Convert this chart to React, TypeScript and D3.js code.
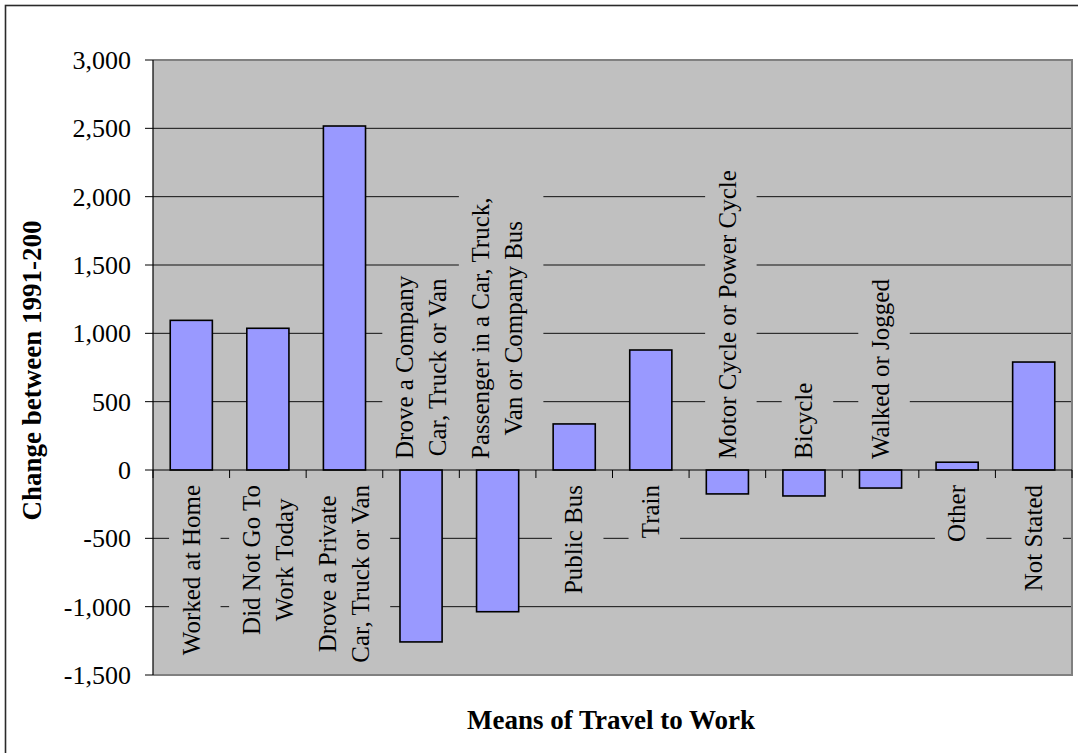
import React, { useEffect, useRef } from "react";
import * as d3 from "d3";

const categories = [
  "Worked at Home",
  "Did Not Go To Work Today",
  "Drove a Private Car, Truck or Van",
  "Drove a Company Car, Truck or Van",
  "Passenger in a Car, Truck, Van or Company Bus",
  "Public Bus",
  "Train",
  "Motor Cycle or Power Cycle",
  "Bicycle",
  "Walked or Jogged",
  "Other",
  "Not Stated",
];

const labelLines = [
  ["Worked at Home"],
  ["Did Not Go To", "Work Today"],
  ["Drove a Private", "Car, Truck or Van"],
  ["Drove a Company", "Car, Truck or Van"],
  ["Passenger in a Car, Truck,", "Van or Company Bus"],
  ["Public Bus"],
  ["Train"],
  ["Motor Cycle or Power Cycle"],
  ["Bicycle"],
  ["Walked or Jogged"],
  ["Other"],
  ["Not Stated"],
];

const values = [1095, 1037, 2517, -1258, -1037, 337, 878, -175, -190, -132, 57, 790];

const yTicks = [-1500, -1000, -500, 0, 500, 1000, 1500, 2000, 2500, 3000];

const yTitle = "Change between 1991-200";
const xTitle = "Means of Travel to Work";

const W = 1078;
const H = 753;
const FONT = "'Liberation Serif', 'Times New Roman', serif";

export default function App() {
  const ref = useRef<SVGSVGElement | null>(null);

  useEffect(() => {
    const svg = d3.select(ref.current);
    svg.selectAll("*").remove();

    const left = 153, right = 1072, top = 60, bottom = 675;

    const x = d3.scaleBand<string>().domain(categories).range([left, right]).paddingInner(0).paddingOuter(0);
    const y = d3.scaleLinear().domain([-1500, 3000]).range([bottom, top]);
    const bw = x.bandwidth();
    const barW = bw * 0.55;

    // outer border
    svg.append("rect")
      .attr("x", 5.5).attr("y", 5.5).attr("width", 1100).attr("height", 800)
      .attr("fill", "#fff").attr("stroke", "#2a2a2a").attr("stroke-width", 1.6);

    // plot background
    svg.append("rect")
      .attr("x", left).attr("y", top).attr("width", right - left).attr("height", bottom - top)
      .attr("fill", "#C0C0C0");

    // gridlines
    svg.append("g").selectAll("line")
      .data(yTicks.filter((t) => t !== 3000 && t !== -1500 && t !== 0))
      .join("line")
      .attr("x1", left).attr("x2", right)
      .attr("y1", (d) => y(d)).attr("y2", (d) => y(d))
      .attr("stroke", "#111").attr("stroke-width", 1);

    // category labels with background boxes
    const ls = 33;
    const capH = 16.5;
    const fontSize = 25;
    const labelG = svg.append("g");
    categories.forEach((c, i) => {
      const lines = labelLines[i];
      const n = lines.length;
      const cx = (x(c) as number) + bw / 2;
      const g = labelG.append("g");
      const box = g.append("rect").attr("fill", "#C0C0C0");
      const texts = lines.map((ln) =>
        g.append("text")
          .attr("font-family", FONT)
          .attr("font-size", fontSize)
          .attr("fill", "#000")
          .attr("text-anchor", "middle")
          .text(ln)
      );
      const lens = texts.map((t) => (t.node() as SVGTextElement).getComputedTextLength());
      const Lmax = Math.max(...lens);
      const below = values[i] >= 0;
      const yc = below ? 485 + Lmax / 2 : 459 - Lmax / 2;
      const baselines = lines.map((_, j) => cx - ((n - 1) * ls) / 2 + j * ls + capH / 2);
      texts.forEach((t, j) => {
        t.attr("transform", `translate(${baselines[j]},${yc}) rotate(-90)`);
      });
      const bx0 = baselines[0] - capH - 14;
      const bx1 = baselines[n - 1] + 21;
      box.attr("x", bx0).attr("width", bx1 - bx0)
        .attr("y", yc - Lmax / 2 - 8).attr("height", Lmax + 16);
    });

    // bars
    svg.append("g").selectAll("rect")
      .data(values)
      .join("rect")
      .attr("x", (_, i) => (x(categories[i]) as number) + bw / 2 - barW / 2)
      .attr("width", barW)
      .attr("y", (d) => y(Math.max(0, d)))
      .attr("height", (d) => Math.abs(y(d) - y(0)))
      .attr("fill", "#9999FF")
      .attr("stroke", "#000")
      .attr("stroke-width", 1.6);

    // plot border (gray)
    svg.append("path")
      .attr("d", `M${left},${top}H${right}V${bottom}H${left}`)
      .attr("fill", "none").attr("stroke", "#808080").attr("stroke-width", 2);

    // zero axis line and x ticks
    svg.append("line")
      .attr("x1", left).attr("x2", right).attr("y1", y(0)).attr("y2", y(0))
      .attr("stroke", "#000").attr("stroke-width", 1.2);
    const bounds = d3.range(categories.length + 1).map((k) => left + k * bw);
    svg.append("g").selectAll("line")
      .data(bounds)
      .join("line")
      .attr("x1", (d) => d).attr("x2", (d) => d)
      .attr("y1", y(0)).attr("y2", y(0) + 8)
      .attr("stroke", "#000").attr("stroke-width", 1);

    // y axis
    svg.append("line")
      .attr("x1", left).attr("x2", left).attr("y1", top).attr("y2", bottom)
      .attr("stroke", "#000").attr("stroke-width", 1.2);
    const fmt = (v: number) => d3.format(",")(v).replace("\u2212", "-");
    const yAxisG = svg.append("g");
    yAxisG.selectAll("line")
      .data(yTicks)
      .join("line")
      .attr("x1", left - 8).attr("x2", left)
      .attr("y1", (d) => y(d)).attr("y2", (d) => y(d))
      .attr("stroke", "#000").attr("stroke-width", 1);
    yAxisG.selectAll("text")
      .data(yTicks)
      .join("text")
      .attr("x", 131)
      .attr("y", (d) => y(d))
      .attr("dy", "0.34em")
      .attr("text-anchor", "end")
      .attr("font-family", FONT)
      .attr("font-size", 26)
      .attr("fill", "#000")
      .text((d) => fmt(d));

    // axis titles
    svg.append("text")
      .attr("transform", `translate(41,${(top + bottom) / 2 + 3}) rotate(-90)`)
      .attr("text-anchor", "middle")
      .attr("font-family", FONT)
      .attr("font-size", 27)
      .attr("font-weight", "bold")
      .attr("fill", "#000")
      .text(yTitle);

    svg.append("text")
      .attr("x", 611)
      .attr("y", 729)
      .attr("text-anchor", "middle")
      .attr("font-family", FONT)
      .attr("font-size", 27)
      .attr("font-weight", "bold")
      .attr("fill", "#000")
      .text(xTitle);
  }, []);

  return (
    <svg
      ref={ref}
      width={W}
      height={H}
      style={{ position: "absolute", left: 0, top: 0, display: "block", background: "#fff" }}
    />
  );
}
